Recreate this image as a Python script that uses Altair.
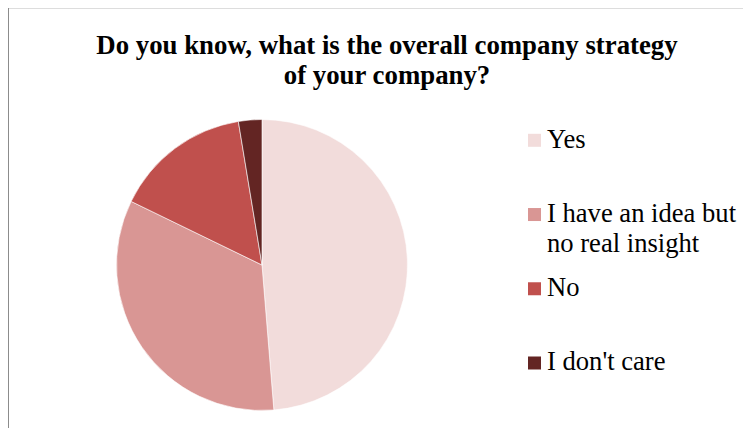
import altair as alt
import pandas as pd

TITLE_LINES = ["Do you know, what is the overall company strategy", "of your company?"]
CATEGORIES = ["Yes", "I have an idea but\nno real insight", "No", "I don't care"]
VALUES = [48.7, 33.5, 15.2, 2.6]
COLORS = ["#F2DCDB", "#D99694", "#C0504D", "#632523"]

W, H = 735, 420
FONT = "Liberation Serif"

df = pd.DataFrame({
    "label": CATEGORIES,
    "value": VALUES,
    "order": list(range(len(CATEGORIES))),
})

color_scale = alt.Scale(domain=CATEGORIES, range=COLORS)

pie = alt.Chart(df).mark_arc(outerRadius=145.5, stroke="white", strokeWidth=0.6).encode(
    theta=alt.Theta("value:Q", stack=True),
    order=alt.Order("order:Q"),
    color=alt.Color("label:N", scale=color_scale, legend=None),
    x=alt.value(254),
    y=alt.value(257),
)

legend_y = alt.Y("label:N", scale=alt.Scale(domain=CATEGORIES, range=[132.3, 355], padding=0), axis=None)

squares = alt.Chart(df).mark_square(size=169, opacity=1).encode(
    x=alt.value(526.5),
    y=legend_y,
    color=alt.Color("label:N", scale=color_scale, legend=None),
)

texts = alt.Chart(df).mark_text(
    align="left", baseline="alphabetic", dy=7.3, font=FONT, fontSize=26.6,
    lineBreak="\n", lineHeight=30, color="black",
).encode(
    x=alt.value(539),
    y=legend_y,
    text="label:N",
)

title_df = pd.DataFrame({"t": ["\n".join(TITLE_LINES)]})
title = alt.Chart(title_df).mark_text(
    align="center", baseline="alphabetic", font=FONT, fontSize=26.8, fontWeight="bold",
    lineBreak="\n", lineHeight=30, color="black",
).encode(x=alt.value(379), y=alt.value(45.5), text="t:N")

border_df = pd.DataFrame({"k": [0]})
top_border = alt.Chart(border_df).mark_rule(color="#8c8c8c", strokeWidth=2).encode(
    x=alt.value(0), x2=alt.value(W), y=alt.value(-1.5)
)
left_border = alt.Chart(border_df).mark_rule(color="#8c8c8c", strokeWidth=2).encode(
    x=alt.value(0), y=alt.value(-2.5), y2=alt.value(H)
)

chart = alt.layer(pie, squares, texts, title, top_border, left_border).properties(
    width=W, height=H, padding=0, autosize=alt.AutoSizeParams(type="none"),
).configure_view(stroke=None).configure(background="white")

chart.save("out.html", embed_options={"renderer": "svg", "actions": False})
